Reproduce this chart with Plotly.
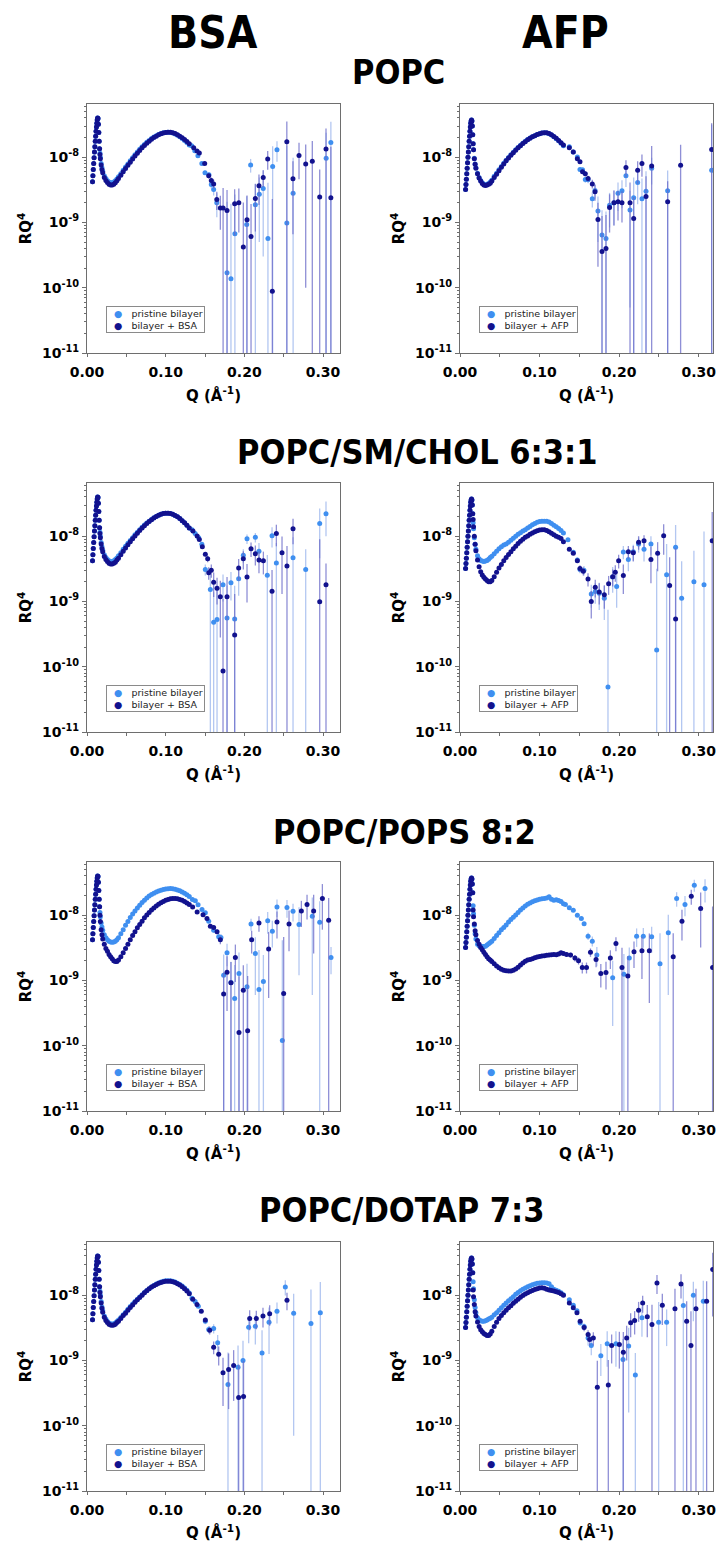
import plotly.graph_objects as go

W, H = 717, 1542

# ---------------- data (RQ^4 values in units of 1e-9) ----------------
Q_DENSE = [0.0070, 0.0075, 0.0080, 0.0085, 0.0090, 0.0095, 0.0100, 0.0105, 0.0110, 0.0115,
           0.0120, 0.0125, 0.0130, 0.0135, 0.0140, 0.0145, 0.0150, 0.0155, 0.0160,
           0.0165, 0.0170, 0.0180, 0.0190, 0.0200, 0.022, 0.024, 0.026, 0.028, 0.030,
           0.032, 0.034, 0.036, 0.038, 0.040, 0.043, 0.046, 0.049, 0.052, 0.055, 0.058,
           0.061, 0.064, 0.067, 0.070, 0.073, 0.076, 0.079, 0.082, 0.085, 0.088, 0.091,
           0.094, 0.097, 0.100, 0.103, 0.106, 0.109, 0.112, 0.115, 0.118, 0.121, 0.124,
           0.127, 0.130]

EDGE_BSA = [4.2, 5.2, 6.5, 8.0, 9.8, 12, 14.5, 17.5, 21, 25, 29, 33, 37, 40, 39, 32, 24, 17.5, 13.5]
EDGE_AFP = [3.2, 3.8, 4.6, 5.6, 6.8, 8.2, 10, 12, 14.5, 17.5, 21, 25, 29, 33, 36, 37, 36, 30, 22]

# Panel 1: POPC / BSA
P1_PRI_TAIL = [11.5, 10, 8.0, 6.9, 6.1, 5.2, 4.7, 4.35, 4.15, 4.05, 4.05, 4.15, 4.35, 4.65, 5.0,
               5.6, 6.3, 7.1, 7.9, 8.8, 9.8, 10.9, 12.0, 13.2, 14.4, 15.6, 16.9, 18.1, 19.3, 20.4,
               21.4, 22.3, 23.0, 23.6, 24.0, 24.2, 24.0, 23.5, 22.7, 21.7, 20.6, 19.4, 18.1, 16.8, 15.4]
P1_PRO_TAIL = [11, 9.5, 7.6, 6.5, 5.8, 4.9, 4.4, 4.1, 3.85, 3.75, 3.75, 3.85, 4.05, 4.35, 4.7,
               5.3, 6.0, 6.7, 7.5, 8.4, 9.4, 10.4, 11.5, 12.7, 13.9, 15.1, 16.4, 17.6, 18.8, 20.0,
               21.0, 22.0, 22.8, 23.5, 24.0, 24.2, 24.1, 23.7, 23.0, 22.0, 21.0, 19.8, 18.6, 17.4, 16.0]
P1_PRI_Q = [0.133, 0.137, 0.141, 0.146, 0.150, 0.155, 0.158, 0.161, 0.165, 0.178, 0.183, 0.188,
            0.203, 0.208, 0.214, 0.219, 0.224, 0.230, 0.236, 0.2415, 0.254, 0.262, 0.304, 0.310]
P1_PRI_R = [15, 12.5, 10.5, 8.0, 5.8, 5.4, 3.8, 3.2, 2.0, 0.17, 0.137, 0.67, 0.93, 7.6, 1.86, 2.7,
            3.3, 0.57, 7.2, 13, 0.98, 2.8, 9.6, 16.8]
P1_PRI_E = [0.3, 0.3, 0.3, 0.4, 0.4, 0.5, 0.5, 0.6, 0.8, 1.9, 1.8, 2.0, 1.6, 1.8, 2.0, 2.2, 3.0,
            3.5, 7.5, 4.5, 14, 7.0, 14, 18]
P1_PRO_Q = [0.1356, 0.1398, 0.1428, 0.1496, 0.1547, 0.158, 0.161, 0.165, 0.1695, 0.173, 0.178,
            0.1877, 0.193, 0.1987, 0.2034, 0.2085, 0.214, 0.2186, 0.224, 0.2297, 0.2356, 0.254,
            0.2618, 0.2695, 0.278, 0.2864, 0.2958, 0.3038, 0.310]
P1_PRO_R = [13.9, 12.4, 11.6, 8.0, 5.2, 4.4, 3.9, 2.25, 1.67, 1.67, 1.53, 1.93, 2.0, 0.42, 1.1,
            0.61, 2.33, 3.65, 4.9, 9.4, 0.088, 17.2, 4.66, 10.6, 7.9, 8.7, 2.45, 13.4, 2.4]
P1_PRO_E = [0.3, 0.3, 0.3, 0.4, 0.5, 0.5, 0.6, 0.7, 0.9, 1.7, 1.6, 1.3, 1.3, 1.6, 1.5, 1.3, 1.6,
            1.8, 1.4, 3.0, 2.2, 18, 4.0, 6.0, 7.8, 9.0, 4.0, 14, 12]

# Panel 2: POPC / AFP
P2_PRI_TAIL = [16, 13, 9.6, 7.9, 6.9, 5.7, 4.9, 4.4, 4.05, 3.85, 3.8, 3.85, 3.95, 4.15, 4.45,
               5.1, 5.7, 6.4, 7.2, 8.1, 9.0, 9.9, 10.9, 11.9, 13.0, 14.1, 15.2, 16.4, 17.5, 18.6,
               19.6, 20.6, 21.4, 22.2, 22.9, 23.4, 23.6, 23.4, 22.8, 21.8, 20.6, 19.2, 17.8, 16.3, 15.0]
P2_PRO_TAIL = [16, 13, 9.5, 7.8, 6.8, 5.6, 4.8, 4.3, 3.95, 3.75, 3.7, 3.75, 3.85, 4.0, 4.3,
               4.9, 5.5, 6.2, 7.0, 7.9, 8.8, 9.7, 10.7, 11.7, 12.8, 13.9, 15.0, 16.2, 17.3, 18.5,
               19.5, 20.5, 21.4, 22.2, 22.9, 23.4, 23.7, 23.6, 23.0, 22.0, 20.8, 19.5, 18.1, 16.7, 15.4]
P2_PRI_Q = [0.1374, 0.1424, 0.1475, 0.1508, 0.154, 0.1575, 0.161, 0.1663, 0.1697, 0.1734, 0.1785,
            0.1835, 0.188, 0.1935, 0.1986, 0.2036, 0.2086, 0.2137, 0.2183, 0.2233, 0.2287, 0.2338,
            0.2409, 0.261, 0.3163]
P2_PRI_R = [14.4, 12, 10.1, 6.5, 6.4, 4.55, 4.5, 2.3, 3.1, 1.5, 0.64, 0.57, 1.84, 2.0, 2.8, 3.05,
            5.2, 1.55, 2.4, 4.1, 2.3, 3.0, 6.8, 3.05, 6.3]
P2_PRI_E = [0.3, 0.3, 0.4, 0.4, 0.4, 0.5, 0.5, 0.6, 0.8, 1.0, 0.9, 0.9, 1.0, 1.1, 1.3, 1.4, 1.7,
            1.5, 2.5, 2.2, 2.4, 3.1, 3.0, 3.2, 25]
P2_PRO_Q = [0.1374, 0.1424, 0.1475, 0.1508, 0.154, 0.1575, 0.161, 0.1663, 0.1697, 0.1734, 0.1785,
            0.1835, 0.188, 0.1935, 0.1986, 0.2036, 0.2086, 0.2137, 0.2183, 0.2233, 0.2287, 0.2338,
            0.2409, 0.261, 0.2773, 0.3163]
P2_PRO_R = [14.0, 12.0, 9.5, 8.5, 6.0, 5.6, 4.7, 3.9, 2.95, 1.11, 0.36, 0.4, 1.7, 2.0, 2.07, 2.0,
            6.95, 2.0, 1.15, 6.3, 8.0, 2.5, 7.3, 2.07, 7.5, 13.1]
P2_PRO_E = [0.3, 0.3, 0.4, 0.4, 0.5, 0.5, 0.5, 0.6, 0.8, 0.9, 0.9, 0.9, 1.0, 1.1, 1.0, 1.0, 2.0,
            2.1, 1.3, 2.4, 3.0, 2.6, 7.5, 2.2, 8.0, 20]

# Panel 3: POPC/SM/CHOL / BSA
P3_PRI_TAIL = [11.5, 10, 8.0, 6.9, 6.1, 5.2, 4.7, 4.4, 4.2, 4.1, 4.1, 4.2, 4.4, 4.65, 5.0,
               5.6, 6.3, 7.0, 7.8, 8.6, 9.5, 10.5, 11.5, 12.6, 13.7, 14.8, 15.9, 17.0, 18.1, 19.1,
               20.1, 20.9, 21.6, 22.2, 22.5, 22.5, 22.2, 21.6, 20.8, 19.8, 18.6, 17.3, 16.0, 14.7, 13.4]
P3_PRO_TAIL = [11, 9.5, 7.6, 6.5, 5.8, 4.9, 4.4, 4.1, 3.85, 3.75, 3.75, 3.85, 4.0, 4.3, 4.6,
               5.2, 5.9, 6.6, 7.4, 8.2, 9.1, 10.1, 11.1, 12.2, 13.3, 14.5, 15.6, 16.8, 17.9, 19.0,
               20.0, 20.9, 21.6, 22.2, 22.5, 22.5, 22.2, 21.6, 20.8, 19.8, 18.6, 17.3, 16.0, 14.7, 13.4]
P3_PRI_Q = [0.1335, 0.1375, 0.142, 0.146, 0.1504, 0.1568, 0.161, 0.1653, 0.1729, 0.178, 0.183,
            0.1877, 0.1928, 0.1987, 0.2034, 0.214, 0.2186, 0.2292, 0.2352, 0.2407, 0.2619, 0.278,
            0.2958, 0.3038]
P3_PRI_R = [12.5, 11, 9.5, 7.5, 3.09, 1.53, 0.48, 0.53, 1.8, 0.56, 1.93, 0.54, 2.22, 5.1, 9.1,
            9.6, 5.9, 2.53, 10.2, 3.9, 4.66, 3.09, 15.6, 22]
P3_PRI_E = [0.3, 0.3, 0.3, 0.4, 0.6, 1.6, 0.9, 1.2, 0.8, 1.2, 0.9, 1.2, 1.0, 1.2, 1.5, 1.6, 2.0,
            2.6, 3.5, 4.0, 5.0, 3.2, 11, 12]
P3_PRO_Q = [0.1347, 0.14, 0.1428, 0.1466, 0.1504, 0.1534, 0.1547, 0.158, 0.161, 0.1653, 0.1695,
            0.1729, 0.178, 0.1877, 0.1928, 0.1987, 0.2034, 0.2085, 0.214, 0.2186, 0.2242, 0.2352,
            0.2407, 0.2479, 0.2542, 0.2619, 0.2958, 0.3038]
P3_PRO_R = [12, 10.1, 8.9, 6.9, 5.3, 4.5, 2.75, 3.0, 1.97, 1.6, 1.18, 0.086, 1.18, 0.305, 3.27,
            4.5, 2.36, 6.4, 5.37, 4.3, 4.2, 1.44, 11, 5.6, 3.5, 13.0, 0.99, 1.8]
P3_PRO_E = [0.3, 0.3, 0.3, 0.4, 0.4, 0.5, 0.6, 0.7, 0.8, 0.7, 0.9, 1.0, 1.2, 1.0, 1.2, 1.4, 1.4,
            1.6, 1.8, 1.6, 1.6, 1.6, 4.0, 4.3, 3.6, 5.5, 8.0, 2.0]

# Panel 4: POPC/SM/CHOL / AFP
P4_PRI_TAIL = [16, 13, 9.5, 7.5, 6.3, 5.0, 4.5, 4.25, 4.15, 4.1, 4.15, 4.25, 4.45, 4.7, 4.95,
               5.4, 5.9, 6.4, 6.9, 7.3, 7.6, 8.1, 8.7, 9.3, 10.0, 10.7, 11.3, 12.0, 12.6, 13.3,
               14.1, 15.0, 15.7, 16.3, 16.8, 17.0, 17.0, 16.9, 16.5, 15.6, 14.7, 13.9, 13.1, 12.2, 11.2]
P4_PRO_TAIL = [18, 14, 10, 7.5, 6.0, 4.3, 3.4, 2.85, 2.55, 2.35, 2.2, 2.1, 2.0, 2.0, 2.1,
               2.4, 2.8, 3.25, 3.7, 4.2, 4.7, 5.25, 5.8, 6.4, 7.0, 7.7, 8.4, 9.0, 9.6, 10.1,
               10.7, 11.2, 11.7, 12.1, 12.4, 12.6, 12.5, 12.2, 11.7, 11.1, 10.5, 10.0, 9.6, 9.2, 8.2]
P4_PRI_Q = [0.1357, 0.1424, 0.1475, 0.1508, 0.1558, 0.165, 0.170, 0.175, 0.1814, 0.186, 0.1919,
            0.1969, 0.2053, 0.2116, 0.2178, 0.2245, 0.2313, 0.240, 0.2472, 0.2597, 0.271, 0.2786,
            0.294, 0.3067]
P4_PRI_R = [8.8, 5.7, 4.3, 3.1, 3.0, 1.3, 1.42, 1.34, 1.12, 0.049, 2.36, 1.7, 5.75, 4.4, 5.8,
            7.6, 6.3, 7.6, 0.18, 2.56, 6.8, 1.12, 2.0, 1.8]
P4_PRI_E = [0.3, 0.4, 0.4, 0.4, 0.5, 0.5, 0.5, 0.6, 0.6, 0.7, 1.0, 0.9, 1.3, 1.5, 1.6, 2.0, 2.2,
            2.4, 3.0, 5.0, 8.0, 3.0, 4.0, 10]
P4_PRO_Q = [0.1374, 0.1424, 0.1475, 0.1508, 0.155, 0.1609, 0.165, 0.170, 0.175, 0.1814, 0.1868,
            0.1919, 0.1952, 0.1994, 0.2053, 0.2116, 0.2178, 0.2245, 0.2313, 0.240, 0.2484, 0.256,
            0.2635, 0.271, 0.317]
P4_PRO_R = [6.3, 5.5, 4.2, 3.2, 2.9, 2.2, 1.0, 1.65, 1.4, 1.27, 1.86, 2.4, 2.8, 4.2, 2.5, 5.8,
            5.6, 8.1, 8.5, 4.4, 5.5, 10.2, 1.75, 0.54, 8.5]
P4_PRO_E = [0.3, 0.3, 0.3, 0.4, 0.4, 0.5, 0.45, 0.5, 0.5, 0.5, 0.6, 0.7, 0.8, 1.0, 1.2, 1.3, 1.5,
            1.9, 1.8, 2.5, 2.6, 5.0, 3.0, 6.0, 15]

# Panel 5: POPC/POPS / BSA
P5_PRI_TAIL = [11, 9.5, 7.6, 6.6, 5.9, 5.0, 4.5, 4.2, 4.0, 3.9, 3.85, 3.9, 4.0, 4.2, 4.5,
               5.2, 6.0, 7.0, 8.0, 9.2, 10.4, 11.6, 12.9, 14.2, 15.6, 17.0, 18.3, 19.6, 20.7, 21.7,
               22.6, 23.4, 24.1, 24.7, 25.2, 25.5, 25.6, 25.4, 25.0, 24.4, 23.6, 22.7, 21.7, 20.6, 19.4]
P5_PRO_TAIL = [10, 8, 6.0, 5.0, 4.3, 3.6, 3.1, 2.8, 2.5, 2.3, 2.15, 2.0, 1.95, 1.95, 2.05,
               2.3, 2.65, 3.1, 3.6, 4.2, 4.9, 5.6, 6.4, 7.2, 8.1, 9.1, 10.1, 11.0, 12.0, 12.9,
               13.8, 14.7, 15.5, 16.2, 16.9, 17.4, 17.8, 18.0, 18.0, 17.8, 17.4, 16.9, 16.2, 15.4, 14.6]
P5_PRI_Q = [0.134, 0.1377, 0.1412, 0.1462, 0.1504, 0.1547, 0.161, 0.1674, 0.1703, 0.1737, 0.178,
            0.183, 0.1877, 0.1932, 0.2034, 0.2085, 0.214, 0.2186, 0.2242, 0.2297, 0.2356, 0.2415,
            0.2483, 0.2542, 0.2619, 0.2695, 0.2864, 0.2958, 0.3102]
P5_PRI_R = [17.4, 16.6, 14.5, 12.2, 10.9, 8.1, 5.9, 4.66, 4.55, 1.2, 2.65, 0.93, 0.53, 1.28, 0.8,
            7.3, 2.6, 0.73, 0.96, 8.2, 5.7, 13.4, 0.12, 13.1, 11.5, 7.2, 9.6, 7.8, 2.25]
P5_PRI_E = [0.3, 0.3, 0.3, 0.3, 0.4, 0.4, 0.5, 0.6, 0.6, 1.3, 1.0, 1.0, 1.2, 1.4, 1.0, 1.5, 2.0,
            2.2, 1.5, 3.0, 2.5, 4.0, 4.0, 4.0, 3.5, 6.0, 9.0, 8.5, 1.0]
P5_PRO_Q = [0.1343, 0.14, 0.1475, 0.1525, 0.1568, 0.161, 0.1653, 0.1695, 0.1737, 0.178, 0.183,
            0.1886, 0.1932, 0.1987, 0.2042, 0.2093, 0.2186, 0.2309, 0.2415, 0.25, 0.2568, 0.2725,
            0.2797, 0.2881, 0.2992, 0.3072]
P5_PRO_R = [13.4, 11.2, 10.2, 8.9, 6.8, 6.5, 5.6, 4.2, 0.62, 1.34, 0.92, 2.25, 0.16, 0.71, 0.17,
            4.2, 7.6, 3.04, 7.9, 0.63, 7.3, 11.6, 14.6, 11.6, 18, 8.4]
P5_PRO_E = [0.3, 0.3, 0.3, 0.4, 0.4, 0.4, 0.5, 0.6, 0.7, 1.0, 1.0, 1.3, 1.0, 1.0, 1.0, 1.6, 2.0,
            2.5, 3.5, 4.0, 4.5, 5.0, 6.0, 9.0, 12, 10]

# Panel 6: POPC/POPS / AFP
P6_PRI_TAIL = [14, 10.5, 7.0, 5.2, 4.3, 3.6, 3.4, 3.3, 3.3, 3.3, 3.35, 3.5, 3.65, 3.8, 4.0,
               4.4, 4.9, 5.4, 6.0, 6.5, 7.1, 7.9, 8.6, 9.3, 10.1, 11.0, 12.0, 12.9, 13.8, 14.7,
               15.4, 16.1, 16.7, 17.1, 17.5, 17.8, 18.1, 18.4, 19.2, 17.6, 17.0, 17.2, 16.8, 16.2, 15.0]
P6_PRO_TAIL = [12, 9.5, 7.3, 5.8, 5.0, 4.1, 3.6, 3.2, 2.95, 2.7, 2.5, 2.3, 2.15, 2.05, 1.95,
               1.8, 1.66, 1.56, 1.48, 1.44, 1.41, 1.40, 1.40, 1.43, 1.50, 1.60, 1.72, 1.85, 1.97, 2.05,
               2.1, 2.15, 2.22, 2.28, 2.33, 2.37, 2.4, 2.43, 2.46, 2.48, 2.5, 2.48, 2.55, 2.65, 2.6]
P6_PRI_Q = [0.1325, 0.1374, 0.1424, 0.1475, 0.1525, 0.156, 0.161, 0.1663, 0.172, 0.1919, 0.206,
            0.2128, 0.222, 0.2304, 0.2409, 0.2514, 0.2618, 0.2723, 0.2828, 0.2945, 0.308]
P6_PRI_R = [14.6, 13, 11.9, 10, 8.9, 7.4, 4.77, 4.0, 2.45, 1.1, 1.25, 2.2, 4.77, 4.77, 4.66, 1.8,
            5.4, 18, 14.6, 28.8, 25.6]
P6_PRI_E = [0.3, 0.3, 0.3, 0.4, 0.4, 0.5, 0.6, 0.7, 0.8, 0.9, 1.3, 1.0, 1.5, 1.6, 2.0, 3.5, 4.8,
            4.5, 5.0, 6.0, 10]
P6_PRO_Q = [0.134, 0.139, 0.1445, 0.149, 0.1537, 0.159, 0.164, 0.171, 0.177, 0.1835, 0.189, 0.196,
            0.2036, 0.211, 0.2187, 0.2287, 0.238, 0.268, 0.279, 0.2907, 0.3025, 0.3175]
P6_PRO_R = [2.5, 2.45, 2.2, 2.0, 1.58, 1.58, 2.7, 2.1, 1.28, 1.33, 2.2, 3.7, 1.58, 1.17, 2.75,
            2.85, 2.85, 2.3, 8.1, 19.5, 12.7, 1.58]
P6_PRO_E = [0.2, 0.2, 0.25, 0.25, 0.3, 0.3, 0.4, 0.5, 0.5, 0.6, 0.7, 0.9, 1.6, 1.2, 1.2, 1.8, 2.4,
            3.0, 4.0, 5.0, 9.5, 12]

# Panel 7: POPC/DOTAP / BSA
P7_PRI_TAIL = [11.5, 10, 8.0, 6.6, 5.8, 4.8, 4.3, 3.95, 3.75, 3.65, 3.6, 3.65, 3.75, 3.95, 4.15,
               4.55, 5.0, 5.5, 6.1, 6.7, 7.3, 8.0, 8.7, 9.4, 10.2, 11.0, 11.8, 12.6, 13.4, 14.1,
               14.8, 15.4, 15.9, 16.3, 16.6, 16.7, 16.6, 16.3, 15.9, 15.3, 14.6, 13.8, 12.9, 11.9, 10.8]
P7_PRO_TAIL = [11, 9.5, 7.6, 6.3, 5.5, 4.6, 4.1, 3.8, 3.6, 3.5, 3.45, 3.5, 3.6, 3.8, 4.0,
               4.4, 4.9, 5.3, 5.9, 6.5, 7.1, 7.8, 8.5, 9.2, 10.0, 10.9, 11.7, 12.5, 13.3, 14.0,
               14.6, 15.2, 15.7, 16.1, 16.3, 16.4, 16.3, 16.0, 15.6, 15.0, 14.3, 13.5, 12.6, 11.6, 10.5]
P7_PRI_Q = [0.1335, 0.1375, 0.1415, 0.1504, 0.1547, 0.161, 0.1661, 0.1792, 0.192, 0.1983, 0.2055,
            0.214, 0.2225, 0.2314, 0.2415, 0.2521, 0.2627, 0.2847, 0.2966]
P7_PRI_R = [9.0, 8.0, 6.8, 4.0, 2.98, 3.1, 1.86, 0.43, 0.79, 1.0, 3.23, 3.35, 1.3, 3.86, 5.7,
            13.4, 5.3, 3.7, 5.4]
P7_PRI_E = [0.3, 0.3, 0.3, 0.4, 0.4, 0.5, 0.6, 0.9, 0.9, 1.0, 1.4, 1.6, 1.6, 2.6, 2.0, 3.5, 5.23,
            8.5, 10.5]
P7_PRO_Q = [0.1345, 0.1398, 0.1453, 0.1504, 0.156, 0.161, 0.1674, 0.1729, 0.180, 0.1864, 0.1928,
            0.199, 0.2068, 0.2152, 0.2237, 0.2322, 0.2542]
P7_PRO_R = [8.7, 7.2, 5.7, 4.15, 2.9, 1.6, 1.24, 0.65, 0.73, 0.84, 0.27, 0.28, 4.4, 4.4, 4.8, 5.2,
            8.4]
P7_PRO_E = [0.3, 0.3, 0.3, 0.35, 0.4, 0.35, 0.4, 0.45, 0.55, 0.6, 0.6, 0.7, 1.5, 1.4, 1.6, 1.8,
            2.5]

# Panel 8: POPC/DOTAP / AFP
P8_PRI_TAIL = [16, 12.5, 8.5, 6.5, 5.4, 4.5, 4.2, 4.05, 4.0, 4.0, 4.05, 4.15, 4.3, 4.45, 4.6,
               5.0, 5.4, 5.9, 6.4, 7.0, 7.6, 8.2, 8.8, 9.5, 10.3, 11.0, 11.7, 12.3, 12.9, 13.5,
               14.0, 14.5, 14.9, 15.2, 15.4, 15.5, 15.5, 15.4, 15.0, 13.5, 12.3, 11.9, 11.5, 10.9, 10.2]
P8_PRO_TAIL = [12, 9.5, 7.2, 5.6, 4.8, 3.9, 3.3, 2.95, 2.75, 2.6, 2.5, 2.42, 2.42, 2.55, 2.8,
               3.3, 3.85, 4.4, 4.9, 5.4, 5.9, 6.4, 6.9, 7.5, 8.1, 8.7, 9.3, 9.9, 10.4, 10.9,
               11.4, 11.8, 12.2, 12.6, 12.9, 13.0, 12.8, 12.3, 12.0, 11.8, 11.6, 11.3, 11.0, 10.5, 10.0]
P8_PRI_Q = [0.1374, 0.1424, 0.147, 0.151, 0.156, 0.161, 0.165, 0.177, 0.185, 0.196, 0.2049, 0.212,
            0.2204, 0.2287, 0.2497, 0.2597, 0.2807, 0.2933, 0.3058]
P8_PRI_R = [8.5, 7.0, 5.8, 3.77, 3.3, 2.2, 1.7, 1.18, 1.8, 1.8, 1.03, 1.66, 0.6, 4.5, 3.86, 3.86,
            6.95, 10, 8.1]
P8_PRI_E = [0.3, 0.3, 0.3, 0.4, 0.4, 0.5, 0.5, 0.6, 1.0, 1.0, 1.1, 1.5, 0.7, 2.2, 4.0, 2.2, 7.2,
            6.0, 8.5]
P8_PRO_Q = [0.1374, 0.1424, 0.147, 0.151, 0.156, 0.161, 0.163, 0.1676, 0.1726, 0.1864, 0.1906,
            0.2003, 0.2053, 0.2095, 0.2145, 0.2195, 0.2245, 0.2296, 0.2354, 0.2413, 0.2476, 0.2543,
            0.2702, 0.2778, 0.2849, 0.2903, 0.2966, 0.31, 0.3176]
P8_PRO_R = [7.6, 6.4, 5.4, 4.0, 3.2, 2.5, 2.1, 2.2, 0.39, 0.42, 1.7, 1.75, 1.34, 2.2, 3.77, 4.1,
            5.9, 7.6, 4.66, 3.56, 15.4, 7.0, 6.2, 14.9, 4.0, 1.7, 6.2, 8.1, 24.7]
P8_PRO_E = [0.3, 0.3, 0.3, 0.3, 0.4, 0.4, 0.4, 0.5, 0.6, 0.6, 0.8, 1.0, 1.4, 1.2, 1.5, 1.6, 2.0,
            2.2, 2.4, 3.6, 5.0, 3.5, 6.3, 6.0, 4.1, 4.0, 6.3, 8.2, 20]

COL_TITLES = ["BSA", "AFP"]
ROW_TITLES = ["POPC", "POPC/SM/CHOL 6:3:1", "POPC/POPS 8:2", "POPC/DOTAP 7:3"]
Y_TICKS = [1e-11, 1e-10, 1e-9, 1e-8]
Y_TICKTEXT = ["10<sup>-11</sup>", "10<sup>-10</sup>", "10<sup>-9</sup>", "10<sup>-8</sup>"]
X_TICKS = [0.0, 0.1, 0.2, 0.3]
X_TICKTEXT = ["0.00", "0.10", "0.20", "0.30"]
X_MINOR = [0.05, 0.15, 0.25]
Y_MINOR = [m * 10.0 ** e for e in (-11, -10, -9, -8) for m in range(2, 10)]

PANELS = [
    (0, 0, P1_PRI_TAIL, P1_PRO_TAIL, P1_PRI_Q, P1_PRI_R, P1_PRI_E, P1_PRO_Q, P1_PRO_R, P1_PRO_E),
    (0, 1, P2_PRI_TAIL, P2_PRO_TAIL, P2_PRI_Q, P2_PRI_R, P2_PRI_E, P2_PRO_Q, P2_PRO_R, P2_PRO_E),
    (1, 0, P3_PRI_TAIL, P3_PRO_TAIL, P3_PRI_Q, P3_PRI_R, P3_PRI_E, P3_PRO_Q, P3_PRO_R, P3_PRO_E),
    (1, 1, P4_PRI_TAIL, P4_PRO_TAIL, P4_PRI_Q, P4_PRI_R, P4_PRI_E, P4_PRO_Q, P4_PRO_R, P4_PRO_E),
    (2, 0, P5_PRI_TAIL, P5_PRO_TAIL, P5_PRI_Q, P5_PRI_R, P5_PRI_E, P5_PRO_Q, P5_PRO_R, P5_PRO_E),
    (2, 1, P6_PRI_TAIL, P6_PRO_TAIL, P6_PRI_Q, P6_PRI_R, P6_PRI_E, P6_PRO_Q, P6_PRO_R, P6_PRO_E),
    (3, 0, P7_PRI_TAIL, P7_PRO_TAIL, P7_PRI_Q, P7_PRI_R, P7_PRI_E, P7_PRO_Q, P7_PRO_R, P7_PRO_E),
    (3, 1, P8_PRI_TAIL, P8_PRO_TAIL, P8_PRI_Q, P8_PRI_R, P8_PRI_E, P8_PRO_Q, P8_PRO_R, P8_PRO_E),
]

# ---------------- styling / layout ----------------
LIGHT = "#3f8ff0"
DARK = "#12128e"
LIGHT_ERR = "rgba(160,185,238,0.8)"
DARK_ERR = "rgba(105,105,200,0.75)"
AXIS_COLOR = "#6e6e6e"
COL_LEFT = [87, 460]
PANEL_W = 253
ROW_TOP = [104, 483, 862, 1242]
PANEL_H = 249
X_MAX = [0.3216, 0.318]
Y_RANGE = [-11, -7.185]
COL_TITLE_X = [213, 565]
COL_TITLE_Y = 32
ROW_TITLE_X = [399, 417, 404, 402]
ROW_TITLE_Y = [72, 452, 832, 1210]

TICK_FONT = dict(family="DejaVu Sans", size=14, color="black", weight="bold")
TITLE_FONT = dict(family="DejaVu Sans", size=15, color="black", weight="bold")
BIG_FONT = "DejaVu Sans Condensed, DejaVu Sans"

fig = go.Figure()
layout = dict(width=W, height=H, margin=dict(l=0, r=0, t=0, b=0),
              paper_bgcolor="white", plot_bgcolor="white", showlegend=False)
annotations = []

for k, (r, c, pri_tail, pro_tail, pq, pr, pe, dq, dr, de) in enumerate(PANELS, start=1):
    assert len(pri_tail) == 45 and len(pro_tail) == 45, k
    assert len(pq) == len(pr) == len(pe), k
    assert len(dq) == len(dr) == len(de), k
    edge = EDGE_BSA if c == 0 else EDGE_AFP
    xa = "x" if k == 1 else "x%d" % k
    ya = "y" if k == 1 else "y%d" % k
    protein = COL_TITLES[c]
    for name, tail, sq, sr, se, col, ecol in [
        ("pristine bilayer", pri_tail, pq, pr, pe, LIGHT, LIGHT_ERR),
        ("bilayer + " + protein, pro_tail, dq, dr, de, DARK, DARK_ERR),
    ]:
        xs = Q_DENSE + sq
        ys = [v * 1e-9 for v in edge + tail + sr]
        es = [0.0] * len(Q_DENSE) + [e * 1e-9 for e in se]
        fig.add_trace(go.Scatter(
            x=xs, y=ys, mode="markers", name=name, xaxis=xa, yaxis=ya,
            marker=dict(size=5, color=col, line=dict(width=0)),
            error_y=dict(type="data", array=es, visible=True, color=ecol,
                         thickness=1.3, width=0),
            showlegend=False))

    x0 = COL_LEFT[c]
    y0 = ROW_TOP[r]
    xkey = "xaxis" if k == 1 else "xaxis%d" % k
    ykey = "yaxis" if k == 1 else "yaxis%d" % k
    layout[xkey] = dict(
        domain=[x0 / W, (x0 + PANEL_W) / W], anchor=ya, range=[0, X_MAX[c]],
        showline=True, mirror=True, linecolor=AXIS_COLOR, linewidth=1,
        showgrid=False, zeroline=False,
        tickvals=X_TICKS, ticktext=X_TICKTEXT, ticks="outside", ticklen=3,
        tickcolor=AXIS_COLOR, tickfont=TICK_FONT, ticklabelstandoff=3,
        minor=dict(tickvals=X_MINOR, ticks="outside", ticklen=3, tickcolor=AXIS_COLOR),
        title=dict(text="Q (Å<sup>-1</sup>)", font=TITLE_FONT, standoff=11),
        automargin=False)
    layout[ykey] = dict(
        domain=[1 - (y0 + PANEL_H) / H, 1 - y0 / H], anchor=xa, type="log", range=Y_RANGE,
        showline=True, mirror=True, linecolor=AXIS_COLOR, linewidth=1,
        showgrid=False, zeroline=False,
        tickvals=Y_TICKS, ticktext=Y_TICKTEXT, ticks="outside", ticklen=4,
        tickcolor=AXIS_COLOR, tickfont=TICK_FONT,
        minor=dict(tickvals=Y_MINOR, ticks="outside", ticklen=2.5, tickcolor=AXIS_COLOR),
        title=dict(text="RQ<sup>4</sup>", font=TITLE_FONT, standoff=6),
        automargin=False)

    leg_text = ("\u00a0\u00a0<span style='color:%s'>\u25cf</span>\u00a0\u00a0\u00a0pristine bilayer<br>"
                "\u00a0\u00a0<span style='color:%s'>\u25cf</span>\u00a0\u00a0\u00a0bilayer + %s"
                % (LIGHT, DARK, protein))
    annotations.append(dict(
        text=leg_text, xref="paper", yref="paper",
        x=(x0 + 19) / W, y=1 - (y0 + 202) / H, xanchor="left", yanchor="top",
        showarrow=False, align="left", bgcolor="white", bordercolor="#8a8a8a",
        borderwidth=1, borderpad=1,
        font=dict(family="DejaVu Sans", size=9.5, color="#222222")))

for c, t in enumerate(COL_TITLES):
    annotations.append(dict(text=t, xref="paper", yref="paper", x=COL_TITLE_X[c] / W,
                            y=1 - COL_TITLE_Y / H, xanchor="center", yanchor="middle",
                            showarrow=False,
                            font=dict(family=BIG_FONT, size=44, color="black", weight="bold")))
for r, t in enumerate(ROW_TITLES):
    annotations.append(dict(text=t, xref="paper", yref="paper", x=ROW_TITLE_X[r] / W,
                            y=1 - ROW_TITLE_Y[r] / H, xanchor="center", yanchor="middle",
                            showarrow=False,
                            font=dict(family=BIG_FONT, size=34, color="black", weight="bold")))

layout["annotations"] = annotations
fig.update_layout(**layout)
fig.write_html("out.html", config={"displayModeBar": False},
               post_script="document.body.style.margin='0px';document.body.style.padding='0px';")
